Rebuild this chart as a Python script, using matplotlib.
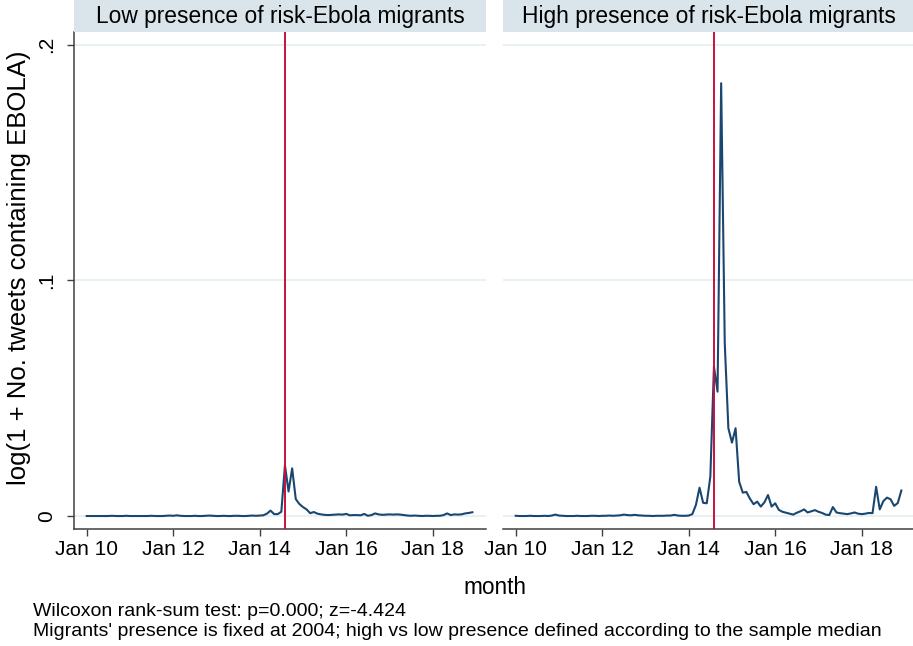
import matplotlib
matplotlib.use("Agg")
import matplotlib.pyplot as plt
import numpy as np

plt.rcParams['font.family'] = ['Liberation Sans', 'DejaVu Sans']

# ---- data (monthly, Jan 2010 .. Dec 2018) ----
start_year = 2010
low_presence = [
    0.0002, 0.0002, 0.0002, 0.0002, 0.0002, 0.0002, 0.0002, 0.0003, 0.0002, 0.0002,
    0.0002, 0.0003, 0.0002, 0.0002, 0.0002, 0.0002, 0.0002, 0.0002, 0.0003, 0.0002,
    0.0002, 0.0002, 0.0003, 0.0004, 0.0003, 0.0005, 0.0003, 0.0002, 0.0002, 0.0002,
    0.0003, 0.0002, 0.0002, 0.0003, 0.0004, 0.0003, 0.0002, 0.0002, 0.0003, 0.0002,
    0.0002, 0.0003, 0.0003, 0.0002, 0.0002, 0.0003, 0.0004, 0.0003, 0.0004, 0.0005,
    0.0012, 0.0025, 0.0010, 0.0010, 0.0020,
    0.0217, 0.0106, 0.0204, 0.0074, 0.0053, 0.0040, 0.0030, 0.0014, 0.0019, 0.0012,
    0.0009, 0.0007, 0.0006, 0.0007, 0.0008, 0.0009, 0.0008, 0.0011, 0.0005, 0.0006,
    0.0006, 0.0005, 0.0011, 0.0003, 0.0006, 0.0013, 0.0009, 0.0007, 0.0008, 0.0009,
    0.0008, 0.0009, 0.0008, 0.0006, 0.0004, 0.0003, 0.0004, 0.0003, 0.0002, 0.0003,
    0.0003, 0.0002, 0.0003, 0.0003, 0.0006, 0.0013, 0.0006, 0.0009, 0.0008, 0.0009,
    0.0013, 0.0015, 0.0018,
]
high_presence = [
    0.0003, 0.0002, 0.0002, 0.0002, 0.0003, 0.0002, 0.0002, 0.0002, 0.0003, 0.0002,
    0.0004, 0.0008, 0.0004, 0.0003, 0.0002, 0.0002, 0.0002, 0.0003, 0.0002, 0.0002,
    0.0002, 0.0003, 0.0003, 0.0002, 0.0003, 0.0003, 0.0004, 0.0003, 0.0004, 0.0005,
    0.0008, 0.0006, 0.0005, 0.0007, 0.0005, 0.0004, 0.0003, 0.0003, 0.0002, 0.0003,
    0.0003, 0.0003, 0.0004, 0.0004, 0.0007, 0.0004, 0.0003, 0.0003, 0.0004, 0.0010,
    0.0049, 0.0122, 0.0058, 0.0056, 0.0169,
    0.0635, 0.0529, 0.1836, 0.0734, 0.0374, 0.0313, 0.0374, 0.0147, 0.0101, 0.0104,
    0.0075, 0.0052, 0.0063, 0.0042, 0.0060, 0.0091, 0.0042, 0.0056, 0.0028, 0.0020,
    0.0016, 0.0012, 0.0008, 0.0016, 0.0022, 0.0030, 0.0017, 0.0022, 0.0027, 0.0020,
    0.0015, 0.0008, 0.0006, 0.0040, 0.0017, 0.0014, 0.0012, 0.0010, 0.0013, 0.0017,
    0.0012, 0.0010, 0.0012, 0.0015, 0.0014, 0.0126, 0.0030, 0.0065, 0.0080, 0.0073,
    0.0045, 0.0057, 0.0110,
]
panel_titles = ["Low presence of risk-Ebola migrants", "High presence of risk-Ebola migrants"]
xtick_years = [2010, 2012, 2014, 2016, 2018]
xtick_labels = ["Jan 10", "Jan 12", "Jan 14", "Jan 16", "Jan 18"]
ytick_vals = [0, 0.1, 0.2]
ytick_labels = ["0", ".1", ".2"]
event_month = 2014 + 7 / 12.0   # Aug 2014
ylabel = "log(1 + No. tweets containing EBOLA)"
xlabel = "month"
notes = ["Wilcoxon rank-sum test: p=0.000; z=-4.424",
         "Migrants' presence is fixed at 2004; high vs low presence defined according to the sample median"]

months = start_year + np.arange(len(low_presence)) / 12.0

# ---- styling ----
W, H = 913, 646
fig = plt.figure(figsize=(W / 100, H / 100), dpi=100)
navy = "#1a476f"
red = "#c8103e"
grid_c = "#e4edf0"
strip_c = "#d9e5eb"
axis_c = "#404040"

top_px, bot_px = 32, 529
panels_px = [(74, 486), (503, 915)]
xlim = (2009.706, 2019.232)
ylim = (-0.0053, 0.2053)

series = [low_presence, high_presence]
for i, (x0, x1) in enumerate(panels_px):
    ax = fig.add_axes([x0 / W, 1 - bot_px / H, (x1 - x0) / W, (bot_px - top_px) / H])
    ax.set_xlim(*xlim)
    ax.set_ylim(*ylim)
    for yv in ytick_vals:
        ax.axhline(yv, color=grid_c, lw=1.2, zorder=0)
    ax.plot(months, series[i], color=navy, lw=1.5, zorder=3)
    ax.axvline(event_month, color=red, lw=1.4, zorder=4)
    for s in ["top", "right"]:
        ax.spines[s].set_visible(False)
    ax.spines["bottom"].set_color(axis_c)
    ax.spines["bottom"].set_linewidth(1.1)
    ax.set_xticks(xtick_years)
    ax.set_xticklabels(xtick_labels, fontsize=15)
    ax.tick_params(axis="x", length=5, width=1, color=axis_c, pad=3)
    if i == 0:
        ax.spines["left"].set_color(axis_c)
        ax.spines["left"].set_linewidth(1.1)
        ax.set_yticks(ytick_vals)
        ax.set_yticklabels(ytick_labels, fontsize=15, rotation=90, va="center")
        ax.tick_params(axis="y", length=5, width=1, color=axis_c, pad=8)
        ax.set_ylabel(ylabel, fontsize=18.5, va="center", ha="center")
        ax.yaxis.set_label_coords((19 - x0) / (x1 - x0), (bot_px - 268) / (bot_px - top_px))
    else:
        ax.spines["left"].set_visible(False)
        ax.set_yticks([])
    ax.patch.set_alpha(0)
    # header strip
    hax = fig.add_axes([x0 / W, 1 - top_px / H, (x1 - x0) / W, top_px / H])
    hax.set_facecolor(strip_c)
    hax.set_xticks([]); hax.set_yticks([])
    for s in hax.spines.values():
        s.set_visible(False)
    hax.text(0.5, 0.5, panel_titles[i], ha="center", va="center", fontsize=16.4,
             transform=hax.transAxes)

fig.text((74 + 915) / 2 / W, 1 - 587 / H, xlabel, ha="center", va="center", fontsize=16.3)
fig.text(33 / W, 1 - 612 / H, notes[0], ha="left", va="center", fontsize=14)
fig.text(33 / W, 1 - 632 / H, notes[1], ha="left", va="center", fontsize=14)

fig.savefig("out.png", dpi=100, facecolor="white")
